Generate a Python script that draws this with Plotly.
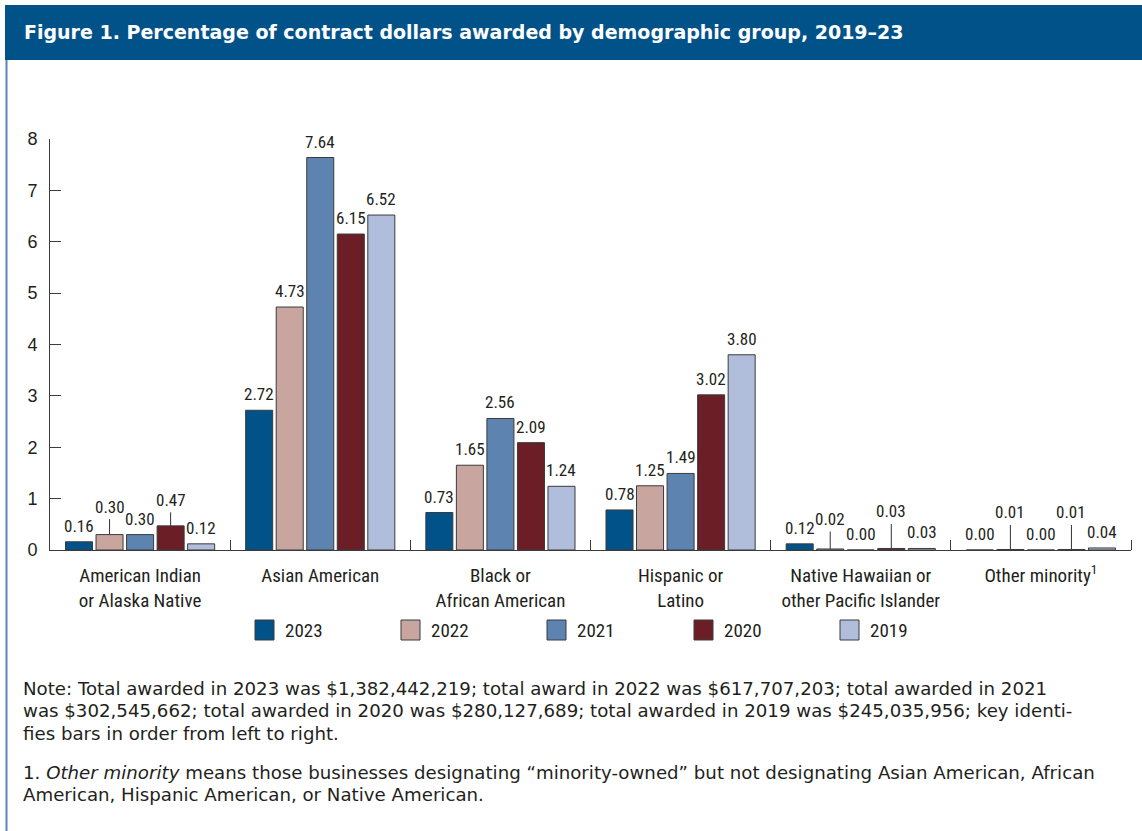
import plotly.graph_objects as go

# ---- data -------------------------------------------------------------
groups = [
    "American Indian<br>or Alaska Native",
    "Asian American",
    "Black or<br>African American",
    "Hispanic or<br>Latino",
    "Native Hawaiian or<br>other Pacific Islander",
    "Other minority<sup>1</sup>",
]
years = ["2023", "2022", "2021", "2020", "2019"]

pct_2023 = [0.16, 2.72, 0.73, 0.78, 0.12, 0.00]
pct_2022 = [0.30, 4.73, 1.65, 1.25, 0.02, 0.01]
pct_2021 = [0.30, 7.64, 2.56, 1.49, 0.00, 0.00]
pct_2020 = [0.47, 6.15, 2.09, 3.02, 0.03, 0.01]
pct_2019 = [0.12, 6.52, 1.24, 3.80, 0.03, 0.04]
series = [pct_2023, pct_2022, pct_2021, pct_2020, pct_2019]

y_ticks = [0, 1, 2, 3, 4, 5, 6, 7, 8]

# ---- styling ----------------------------------------------------------
colors = ["#02528a", "#c8a69f", "#5d83b0", "#6b1e25", "#b0bedb"]
COND = "Roboto Condensed, Liberation Sans, sans-serif"
SANS = "Liberation Sans, Arial, sans-serif"
NOTE = "DejaVu Sans, Liberation Sans, sans-serif"
TXT = "#231f20"

W, H = 1142, 831
ML, MR, MT, MB = 50, 11, 139, 281
PW, PH = W - ML - MR, H - MT - MB


def px(xpix):
    return (xpix - ML) / PW


def py(ypix):
    return 1 - (ypix - MT) / PH


bar_w = 0.15
step = 0.1695

# labels lifted above small bars with a leader line: (series, group) -> offset in px
leaders = {(1, 0): -28, (3, 0): -26, (1, 4): -30, (3, 4): -37, (1, 5): -37, (3, 5): -37}

fig = go.Figure()
annotations = []
for j, (yr, vals) in enumerate(zip(years, series)):
    xs = [i + (j - 2) * step for i in range(len(groups))]
    fig.add_trace(go.Bar(
        x=xs, y=vals, width=bar_w, name=yr,
        marker=dict(color=colors[j], line=dict(color="#3b3b3b", width=1)),
        showlegend=False, hoverinfo="skip",
    ))
    for i, (xv, v) in enumerate(zip(xs, vals)):
        label = f"{v:.2f}"
        if (j, i) in leaders:
            annotations.append(dict(
                x=xv, y=v, xref="x", yref="y", text=label, showarrow=True,
                arrowhead=0, arrowwidth=1, arrowcolor="#333", ax=0, ay=leaders[(j, i)],
                standoff=0, borderpad=2,
                font=dict(family=COND, size=17, color=TXT),
            ))
        else:
            annotations.append(dict(
                x=xv, y=v, xref="x", yref="y", text=label, showarrow=False,
                yanchor="bottom", yshift=4,
                font=dict(family=COND, size=17, color=TXT),
            ))

# header band and left rule
shapes = [
    dict(type="rect", xref="paper", yref="paper", x0=px(5), x1=px(1142), y0=py(60), y1=py(5),
         fillcolor="#02528a", line=dict(width=0), layer="below"),
    dict(type="line", xref="paper", yref="paper", x0=px(6.5), x1=px(6.5), y0=py(831), y1=py(60),
         line=dict(color="#5a86b5", width=2)),
]
annotations.append(dict(
    x=px(22), y=py(32), xref="paper", yref="paper", xanchor="left", yanchor="middle",
    text="<b>Figure 1. Percentage of contract dollars awarded by demographic group, 2019–23</b>",
    showarrow=False, font=dict(family="DejaVu Sans, Liberation Sans, sans-serif", size=19, color="white"),
))

# key
leg_x = [255, 401, 547, 694, 840]
for j, yr in enumerate(years):
    x0 = leg_x[j]
    shapes.append(dict(type="rect", xref="paper", yref="paper",
                       x0=px(x0), x1=px(x0 + 19), y0=py(640), y1=py(620),
                       fillcolor=colors[j], line=dict(color="#3b3b3b", width=1)))
    annotations.append(dict(x=px(x0 + 28), y=py(630), xref="paper", yref="paper",
                            xanchor="left", yanchor="middle", text=yr, showarrow=False,
                            font=dict(family=COND, size=19, color=TXT)))

# notes
note_lines = [
    "Note: Total awarded in 2023 was $1,382,442,219; total award in 2022 was $617,707,203; total awarded in 2021",
    "was $302,545,662; total awarded in 2020 was $280,127,689; total awarded in 2019 was $245,035,956; key identi-",
    "fies bars in order from left to right.",
]
foot_lines = [
    "1. <i>Other minority</i> means those businesses designating “minority-owned” but not designating Asian American, African",
    "American, Hispanic American, or Native American.",
]
for k, t in enumerate(note_lines):
    annotations.append(dict(x=px(21), y=py(688 + k * 22.5), xref="paper", yref="paper",
                            xanchor="left", yanchor="middle", text=t, showarrow=False,
                            font=dict(family=NOTE, size=18.2, color=TXT)))
for k, t in enumerate(foot_lines):
    annotations.append(dict(x=px(21), y=py(772 + k * 22.5), xref="paper", yref="paper",
                            xanchor="left", yanchor="middle", text=t, showarrow=False,
                            font=dict(family=NOTE, size=18.2, color=TXT)))

fig.update_layout(
    width=W, height=H,
    margin=dict(l=ML, r=MR, t=MT, b=MB, pad=0),
    paper_bgcolor="white", plot_bgcolor="white",
    barmode="overlay",
    shapes=shapes, annotations=annotations,
    xaxis=dict(
        range=[-0.5, len(groups) - 0.5], tickmode="array",
        tickvals=list(range(len(groups))), ticktext=groups, ticks="",
        tickfont=dict(family=COND, size=19, color=TXT), ticklabelstandoff=8,
        showline=True, linecolor="#3b3b3b", linewidth=1, showgrid=False, zeroline=False,
        minor=dict(tickmode="array", tickvals=[i + 0.5 for i in range(len(groups))],
                   ticks="inside", ticklen=10, tickcolor="#3b3b3b", tickwidth=1, showgrid=False),
    ),
    yaxis=dict(
        range=[0, 8], tickmode="array", tickvals=y_ticks, ticks="inside", ticklen=11,
        tickcolor="#3b3b3b", tickwidth=1,
        tickfont=dict(family=SANS, size=18, color=TXT),
        showline=True, linecolor="#3b3b3b", linewidth=1, showgrid=False, zeroline=False,
        ticklabelstandoff=8,
    ),
)

fig.write_html("out.html")
